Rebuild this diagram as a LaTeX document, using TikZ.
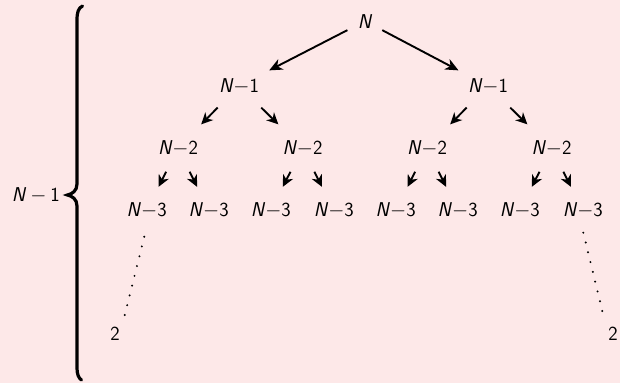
\documentclass[tikz,border=0pt]{standalone}
\usepackage{fontspec}
\usetikzlibrary{arrows.meta,calc}
\definecolor{bg}{RGB}{253,232,232}
\newcommand\treelbl[1]{\textsl{N}$-$#1}
\tikzset{
  lbl/.style={font=\fontsize{20}{24}\selectfont\sffamily, inner sep=0pt, anchor=base},
  arr/.style={-{Stealth[length=11.5pt,width=11pt,inset=3.5pt]}, line width=1.9pt},
  bigarr/.style={-{Stealth[length=13pt,width=11.5pt,inset=4pt]}, line width=1.9pt},
  dotmark/.style={fill=black}
}
\begin{document}
\begin{tikzpicture}[x=1pt,y=-1pt]
\fill[bg] (0,0) rectangle (620,383);
\useasboundingbox (0,0) rectangle (620,383);
% nodes
\node[lbl] (n) at (365,28) {\textsl{N}};
\node[lbl] (a1) at (239,92) {\treelbl{1}};
\node[lbl] (a2) at (488,92) {\treelbl{1}};
\node[lbl] (b1) at (178,154) {\treelbl{2}};
\node[lbl] (b2) at (302.5,154) {\treelbl{2}};
\node[lbl] (b3) at (427,154) {\treelbl{2}};
\node[lbl] (b4) at (551.5,154) {\treelbl{2}};
\node[lbl] (c1) at (146.7,216.7) {\treelbl{3}};
\node[lbl] (c2) at (208.7,216.7) {\treelbl{3}};
\node[lbl] (c3) at (270.8,216.7) {\treelbl{3}};
\node[lbl] (c4) at (333.8,216.7) {\treelbl{3}};
\node[lbl] (c5) at (395.7,216.7) {\treelbl{3}};
\node[lbl] (c6) at (457.7,216.7) {\treelbl{3}};
\node[lbl] (c7) at (519.8,216.7) {\treelbl{3}};
\node[lbl] (c8) at (582.8,216.7) {\treelbl{3}};
\node[lbl] (d1) at (115,340.5) {2};
\node[lbl] (d2) at (613,340.5) {2};
\node[lbl, anchor=base east] (lab) at (60,201.7) {\textsl{N}\hspace{4pt}$-$\hspace{4pt}1};
% arrows
\draw[bigarr] ($(n)!0.14!(a1)$) -- ($(n)!0.76!(a1)$);
\draw[bigarr] ($(n)!0.14!(a2)$) -- ($(n)!0.76!(a2)$);
\foreach \p/\q in {a1/b1,a1/b2,a2/b3,a2/b4}
  \draw[arr] ($(\p)!0.35!(\q)$) -- ($(\p)!0.62!(\q)$);
\foreach \p/\q in {b1/c1,b1/c2,b2/c3,b2/c4,b3/c5,b3/c6,b4/c7,b4/c8}
  \draw[arr] ($(\p)!0.38!(\q)$) -- ($(\p)!0.62!(\q)$);
% dotted continuations
\coordinate (dl1) at (144.3,236.7);
\coordinate (dl2) at (124.7,315);
\coordinate (dr1) at (583.3,232.7);
\coordinate (dr2) at (602.3,311);
\foreach \i in {0,...,8} {
  \fill[dotmark] ($(dl1)!\i/8!(dl2)$) circle (1.1);
  \fill[dotmark] ($(dr1)!\i/8!(dr2)$) circle (1.1);
}
% brace
\draw[line width=3.2pt, line cap=round]
  (82.5,6) .. controls (78.5,8) and (77,12) .. (77,20) -- (77,184)
  .. controls (77,191) and (72,194) .. (67.5,195)
  .. controls (72,196) and (77,199) .. (77,206) -- (77,368)
  .. controls (77,374) and (78.5,378) .. (81.5,380);
\end{tikzpicture}
\end{document}
